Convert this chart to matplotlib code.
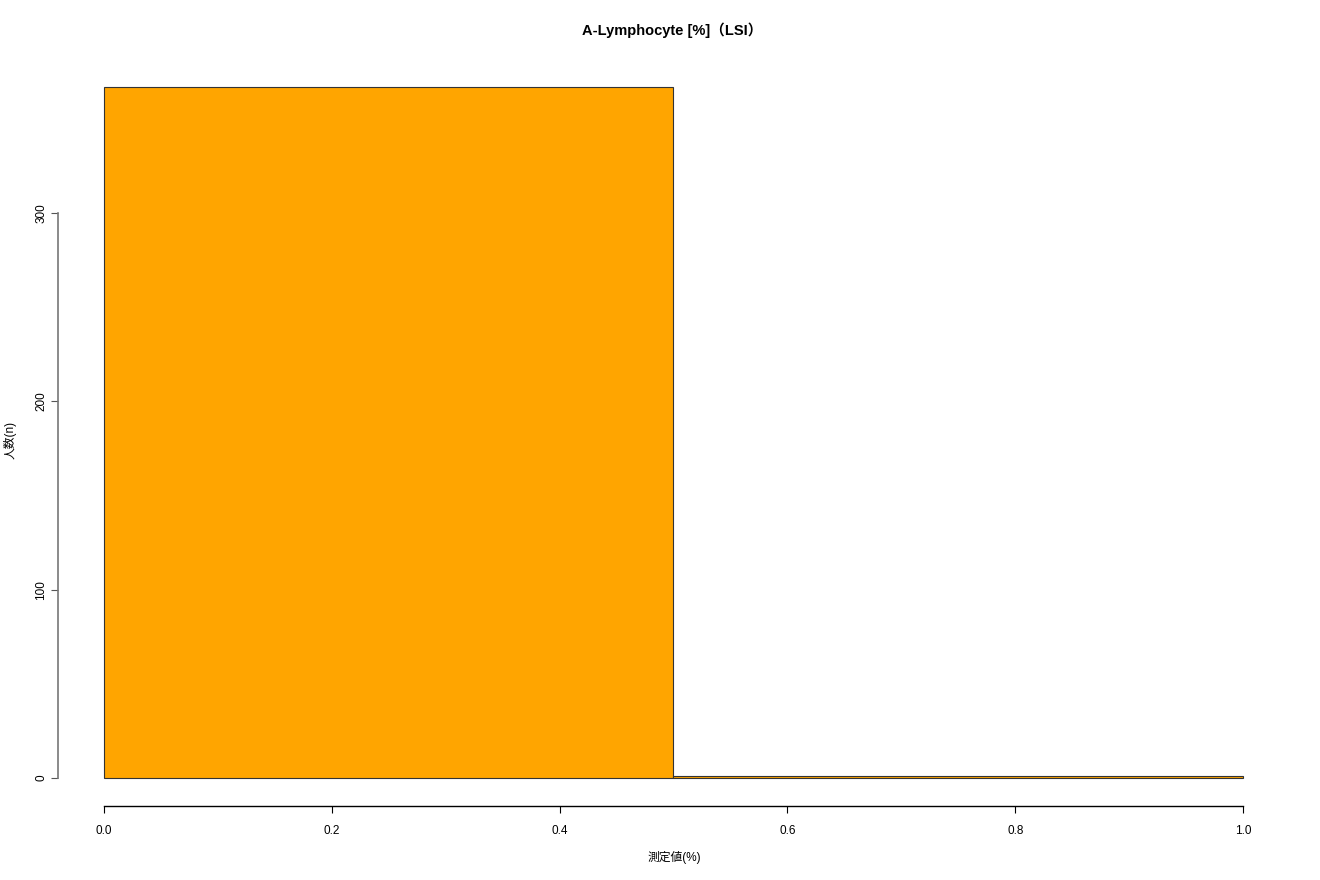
import matplotlib
matplotlib.use("Agg")
import matplotlib.pyplot as plt

plt.rcParams['font.family'] = ['Liberation Sans', 'Noto Sans CJK JP', 'DejaVu Sans']

bin_edges = [0.0, 0.5, 1.0]
counts = [367, 1]
title = "A-Lymphocyte [%]（LSI）"
xlabel = "測定値(%)"
ylabel = "人数(n)"
xticks = [0.0, 0.2, 0.4, 0.6, 0.8, 1.0]
xtick_labels = ["0.0", "0.2", "0.4", "0.6", "0.8", "1.0"]
yticks = [0, 100, 200, 300]

fig = plt.figure(figsize=(13.2, 8.8), dpi=100)
ax = fig.add_axes([0.04424, 0.08455, 0.9762 - 0.04424, 0.9325 - 0.08455])

lefts = bin_edges[:-1]
widths = [b - a for a, b in zip(bin_edges[:-1], bin_edges[1:])]
ax.bar(lefts, counts, width=widths, align='edge', color='#FFA500',
       edgecolor='#333333', linewidth=0.8)

xr = bin_edges[-1] - bin_edges[0]
ax.set_xlim(bin_edges[0] - 0.04 * xr, bin_edges[-1] + 0.04 * xr)
ymax = max(counts)
ax.set_ylim(-0.04 * ymax, ymax * 1.04)

for s in ['top', 'right']:
    ax.spines[s].set_visible(False)
ax.spines['left'].set_bounds(0, 300)
ax.spines['bottom'].set_bounds(0, 1)
ax.spines['left'].set_color('#777777')
ax.spines['left'].set_linewidth(1.2)
ax.spines['bottom'].set_linewidth(1.0)

ax.set_xticks(xticks)
ax.set_xticklabels(xtick_labels)
ax.set_yticks(yticks)
ax.set_yticklabels([str(v) for v in yticks], rotation=90, va='center')
ax.tick_params(axis='both', direction='out', length=5, width=0.8, labelsize=8.5)
ax.tick_params(axis='x', pad=9)
ax.tick_params(axis='y', color='#555555', pad=3)

fig.text(0.5095, 1 - 30 / 880, title, ha='center', va='center',
         fontsize=10.5, fontweight='bold')

fig.text(0.5107, 1 - 857 / 880, xlabel, ha='center', va='center', fontsize=8.5)
fig.text(10 / 1320, 1 - 440 / 880, ylabel, ha='center', va='center', fontsize=8.5, rotation=90)

fig.savefig("out.png", dpi=100)
